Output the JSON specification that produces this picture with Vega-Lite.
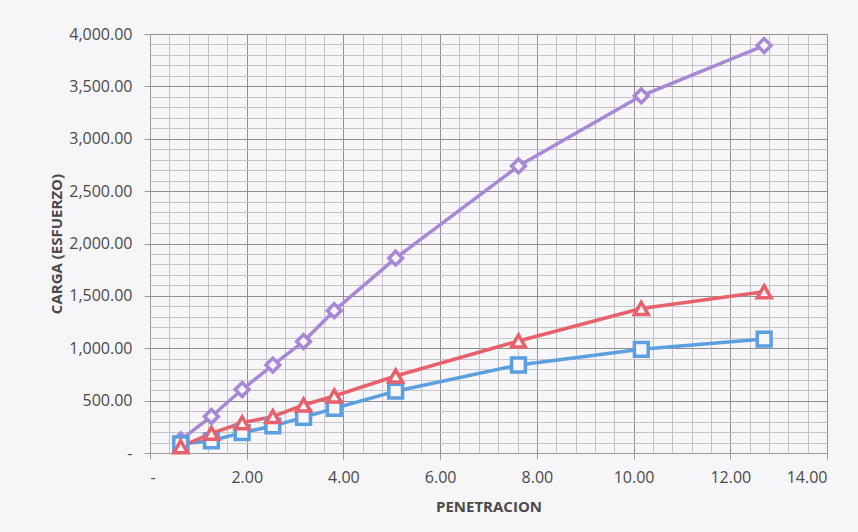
{
  "$schema": "https://vega.github.io/schema/vega-lite/v6.json",
  "width": 677,
  "height": 419,
  "autosize": {"type": "none"},
  "padding": {"left": 150, "top": 34, "right": 31, "bottom": 79},
  "background": "#f6f6f9",
  "config": {
    "font": "Open Sans",
    "view": {"stroke": "#9a9a9a", "strokeWidth": 1, "fill": "#f6f6f9"}
  },
  "data": {
    "values": [
      {"serie": "56 golpes", "penetracion": 0.635, "carga": 125},
      {"serie": "56 golpes", "penetracion": 1.27, "carga": 349},
      {"serie": "56 golpes", "penetracion": 1.905, "carga": 606},
      {"serie": "56 golpes", "penetracion": 2.54, "carga": 840},
      {"serie": "56 golpes", "penetracion": 3.175, "carga": 1064},
      {"serie": "56 golpes", "penetracion": 3.81, "carga": 1359},
      {"serie": "56 golpes", "penetracion": 5.08, "carga": 1860},
      {"serie": "56 golpes", "penetracion": 7.62, "carga": 2740},
      {"serie": "56 golpes", "penetracion": 10.16, "carga": 3410},
      {"serie": "56 golpes", "penetracion": 12.7, "carga": 3890},
      {"serie": "12 golpes", "penetracion": 0.635, "carga": 86},
      {"serie": "12 golpes", "penetracion": 1.27, "carga": 117},
      {"serie": "12 golpes", "penetracion": 1.905, "carga": 194},
      {"serie": "12 golpes", "penetracion": 2.54, "carga": 258},
      {"serie": "12 golpes", "penetracion": 3.175, "carga": 340},
      {"serie": "12 golpes", "penetracion": 3.81, "carga": 426},
      {"serie": "12 golpes", "penetracion": 5.08, "carga": 590},
      {"serie": "12 golpes", "penetracion": 7.62, "carga": 840},
      {"serie": "12 golpes", "penetracion": 10.16, "carga": 990},
      {"serie": "12 golpes", "penetracion": 12.7, "carga": 1088},
      {"serie": "25 golpes", "penetracion": 0.635, "carga": 60},
      {"serie": "25 golpes", "penetracion": 1.27, "carga": 188},
      {"serie": "25 golpes", "penetracion": 1.905, "carga": 289},
      {"serie": "25 golpes", "penetracion": 2.54, "carga": 347},
      {"serie": "25 golpes", "penetracion": 3.175, "carga": 458},
      {"serie": "25 golpes", "penetracion": 3.81, "carga": 544},
      {"serie": "25 golpes", "penetracion": 5.08, "carga": 735},
      {"serie": "25 golpes", "penetracion": 7.62, "carga": 1069},
      {"serie": "25 golpes", "penetracion": 10.16, "carga": 1380},
      {"serie": "25 golpes", "penetracion": 12.7, "carga": 1539}
    ]
  },
  "encoding": {
    "x": {
      "field": "penetracion",
      "type": "quantitative",
      "scale": {"domain": [0, 14], "nice": false, "zero": true},
      "axis": {
        "title": "PENETRACION",
        "titleFont": "Open Sans",
        "titleFontSize": 15,
        "titleFontWeight": "bold",
        "titleColor": "#4a4a4a",
        "titlePadding": 14,
        "values": [0, 0.4, 0.8, 1.2, 1.6, 2, 2.4, 2.8, 3.2, 3.6, 4, 4.4, 4.8, 5.2, 5.6, 6, 6.4, 6.8, 7.2, 7.6, 8, 8.4, 8.8, 9.2, 9.6, 10, 10.4, 10.8, 11.2, 11.6, 12, 12.4, 12.8, 13.2, 13.6, 14],
        "labelExpr": "abs(datum.value - round(datum.value / 2) * 2) > 0.001 ? '' : (datum.value == 0 ? '-' : format(datum.value, '.2f'))",
        "labelOverlap": false,
        "labelFontSize": 16,
        "labelColor": "#4a4a4a",
        "labelPadding": 10,
        "domainColor": "#9a9a9a",
        "tickColor": "#9a9a9a",
        "tickSize": 6,
        "tickOpacity": {"condition": {"test": "abs(datum.value - round(datum.value / 2) * 2) > 0.001", "value": 0}, "value": 1},
        "gridColor": {"condition": {"test": "abs(datum.value - round(datum.value / 2) * 2) > 0.001", "value": "#c4c4c8"}, "value": "#909090"},
        "gridWidth": 1
      }
    },
    "y": {
      "field": "carga",
      "type": "quantitative",
      "scale": {"domain": [0, 4000], "nice": false},
      "axis": {
        "title": "CARGA (ESFUERZO)",
        "titleFont": "Open Sans",
        "titleFontSize": 15,
        "titleFontWeight": "bold",
        "titleColor": "#4a4a4a",
        "titlePadding": 4,
        "values": [0, 100, 200, 300, 400, 500, 600, 700, 800, 900, 1000, 1100, 1200, 1300, 1400, 1500, 1600, 1700, 1800, 1900, 2000, 2100, 2200, 2300, 2400, 2500, 2600, 2700, 2800, 2900, 3000, 3100, 3200, 3300, 3400, 3500, 3600, 3700, 3800, 3900, 4000],
        "labelExpr": "datum.value % 500 != 0 ? '' : (datum.value == 0 ? '-' : format(datum.value, ',.2f'))",
        "labelOverlap": false,
        "labelFontSize": 16,
        "labelColor": "#4a4a4a",
        "labelPadding": 12,
        "domainColor": "#9a9a9a",
        "tickColor": "#9a9a9a",
        "tickSize": 6,
        "tickOpacity": {"condition": {"test": "datum.value % 500 != 0", "value": 0}, "value": 1},
        "gridColor": {"condition": {"test": "datum.value % 500 != 0", "value": "#c4c4c8"}, "value": "#909090"},
        "gridWidth": 1
      }
    },
    "color": {
      "field": "serie",
      "type": "nominal",
      "scale": {"domain": ["12 golpes", "25 golpes", "56 golpes"], "range": ["#5b9fe0", "#e8606c", "#a688d4"]},
      "legend": null
    }
  },
  "layer": [
    {
      "mark": {"type": "line", "strokeWidth": 3.5}
    },
    {
      "mark": {"type": "point", "filled": false, "fill": "#f6f6f9", "fillOpacity": 1, "strokeWidth": 3.5, "size": 190, "opacity": 1},
      "encoding": {
        "shape": {
          "field": "serie",
          "type": "nominal",
          "scale": {"domain": ["12 golpes", "25 golpes", "56 golpes"], "range": ["square", "triangle-up", "diamond"]},
          "legend": null
        }
      }
    }
  ]
}
